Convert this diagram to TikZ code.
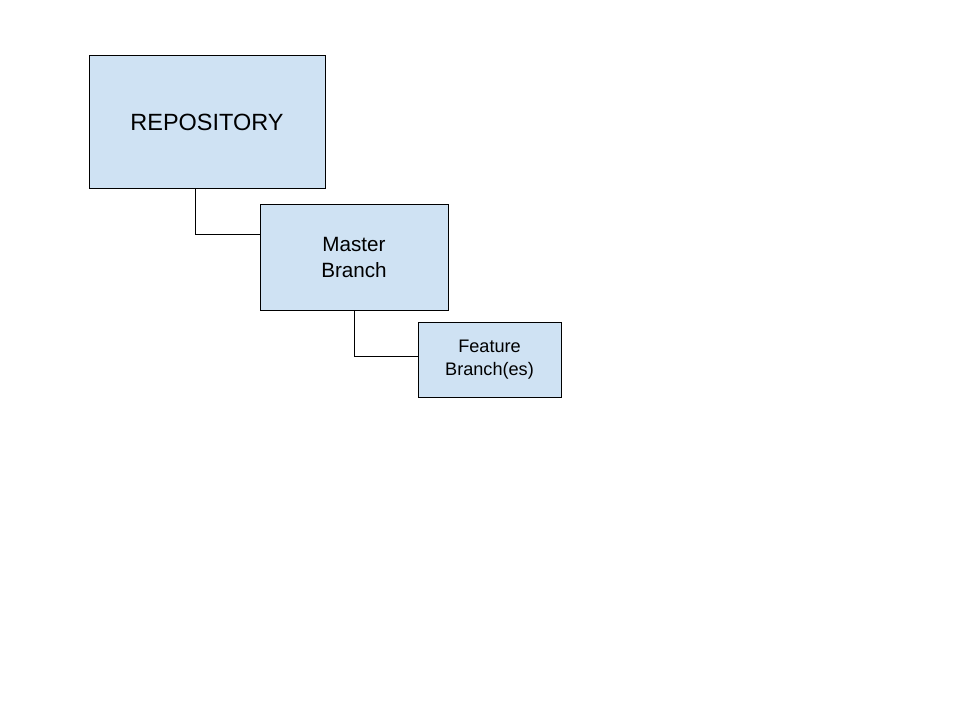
\documentclass[tikz,border=0pt]{standalone}
\usepackage{fontspec}
\setmainfont{Liberation Sans}
\definecolor{boxfill}{HTML}{CFE2F3}
\begin{document}
\begin{tikzpicture}[x=0.75pt,y=-0.75pt]
\tikzset{
  box/.style={draw=black, line width=0.75pt, fill=boxfill, align=center, inner sep=0pt},
  conn/.style={draw=black, line width=0.75pt}
}
\path[use as bounding box, fill=white] (0,0) rectangle (960,720);
\node[box, minimum width=177pt, minimum height=99.75pt, font=\fontsize{17.6}{21}\selectfont] (repo) at (207,122.5) {REPOSITORY};
\node[box, minimum width=141pt, minimum height=78.75pt, font=\fontsize{15.5}{19.5}\selectfont] (master) at (354,257.5) {Master\\Branch};
\node[box, minimum width=107.25pt, minimum height=56.25pt, font=\fontsize{13.6}{17.2}\selectfont] (feature) at (489.5,359.5) {Feature\\Branch(es)};
\draw[conn] ([xshift=-9pt]repo.south) |- ([yshift=17.6pt]master.west);
\draw[conn] (master.south) |- ([yshift=2.6pt]feature.west);
\end{tikzpicture}
\end{document}
